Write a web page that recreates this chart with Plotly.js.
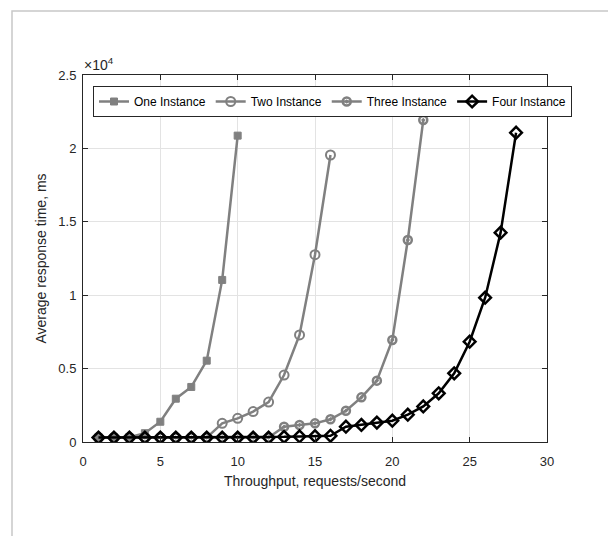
<!DOCTYPE html>
<html>
<head>
<meta charset="utf-8">
<script src="https://cdn.plot.ly/plotly-3.0.1.min.js"></script>
<style>html,body{margin:0;padding:0;background:#fff;}#chart{width:608px;height:536px;}</style>
</head>
<body>
<div id="chart"></div>
<script>
// Data (response time in ms)
const xOne = [1,2,3,4,5,6,7,8,9,10];
const yOne = [320,320,330,600,1380,2950,3750,5540,11040,20870];

const xTwo = [1,2,3,4,5,6,7,8,9,10,11,12,13,14,15,16];
const yTwo = [300,300,300,300,300,300,300,300,1270,1610,2070,2720,4560,7290,12760,19550];

const xThree = [1,2,3,4,5,6,7,8,9,10,11,12,13,14,15,16,17,18,19,20,21,22];
const yThree = [300,300,300,300,300,300,300,300,300,300,300,300,1040,1160,1270,1550,2130,3040,4180,6950,13760,21930];

const xFour = [1,2,3,4,5,6,7,8,9,10,11,12,13,14,15,16,17,18,19,20,21,22,23,24,25,26,27,28];
const yFour = [300,300,300,300,300,300,300,300,300,300,300,300,350,380,400,420,1040,1160,1320,1450,1860,2420,3320,4680,6830,9830,14260,21070];

const seriesNames = ["One Instance","Two Instance","Three Instance","Four Instance"];
const yTickVals = [0,5000,10000,15000,20000,25000];
const yTickText = ["0","0.5","1","1.5","2","2.5"];
const xTickVals = [0,5,10,15,20,25,30];

const gray = "#808080";
const traces = [
  {x:xOne,y:yOne,name:seriesNames[0],mode:"lines+markers",
   line:{color:gray,width:2.5},
   marker:{symbol:"square",size:7,color:gray,line:{color:gray,width:1}}},
  {x:xTwo,y:yTwo,name:seriesNames[1],mode:"lines+markers",
   line:{color:gray,width:2.5},
   marker:{symbol:"circle-open",size:9,color:gray,line:{color:gray,width:2}}},
  {x:xThree,y:yThree,name:seriesNames[2],mode:"lines+markers",
   line:{color:gray,width:2.5},
   marker:{symbol:"circle-open-dot",size:8,color:gray,line:{color:gray,width:2.5}}},
  {x:xFour,y:yFour,name:seriesNames[3],mode:"lines+markers",
   line:{color:"#000",width:2.5},
   marker:{symbol:"diamond-open",size:9,color:"#000",line:{color:"#000",width:2.5}}}
];

// plot area spans 83..608 px (margin r = 0); x axis occupies 83..547
const GW = 608-83;
const px = v => (v-83)/GW;
const py = v => (442-v)/367;

const layout = {
  width:608,height:536,
  paper_bgcolor:"#fff",plot_bgcolor:"rgba(0,0,0,0)",
  margin:{l:83,r:0,t:75,b:94,autoexpand:false},
  font:{family:"Liberation Sans, Arial, sans-serif",color:"#262626",size:13},
  showlegend:true,
  legend:{orientation:"h",x:px(93),y:py(86),xanchor:"left",yanchor:"top",
    bgcolor:"#fff",bordercolor:"#262626",borderwidth:1,
    font:{size:12,color:"#000"},itemwidth:30,tracegroupgap:0},
  xaxis:{domain:[0,px(547)],range:[0,30],tickvals:xTickVals,ticktext:xTickVals.map(String),
    showgrid:true,gridcolor:"#e3e3e3",zeroline:false,
    showline:true,linecolor:"#262626",linewidth:1,mirror:"ticks",
    ticks:"inside",ticklen:5,tickcolor:"#262626",ticklabelstandoff:7,
    tickfont:{size:13,color:"#262626"},
    title:{text:"Throughput, requests/second",font:{size:14,color:"#262626"},standoff:8}},
  yaxis:{range:[0,25000],tickvals:yTickVals,ticktext:yTickText,
    showgrid:true,gridcolor:"#e3e3e3",zeroline:false,
    showline:true,linecolor:"#262626",linewidth:1,mirror:"ticks",
    ticks:"inside",ticklen:5,tickcolor:"#262626",ticklabelstandoff:3,
    tickfont:{size:13,color:"#262626"},
    title:{text:"Average response time, ms",font:{size:14,color:"#262626"},standoff:8}},
  annotations:[{xref:"paper",yref:"paper",x:px(82),y:py(64),xanchor:"left",yanchor:"middle",
    text:"×10<sup>4</sup>",showarrow:false,font:{size:14,color:"#262626"}}],
  shapes:[{type:"rect",xref:"paper",yref:"paper",x0:px(12),x1:px(640),y0:py(600),y1:py(11),
    line:{color:"#c8c8c8",width:1.5},fillcolor:"rgba(0,0,0,0)",layer:"below"}]
};

Plotly.newPlot("chart",traces,layout,{displayModeBar:false,staticPlot:true});
</script>
</body>
</html>
